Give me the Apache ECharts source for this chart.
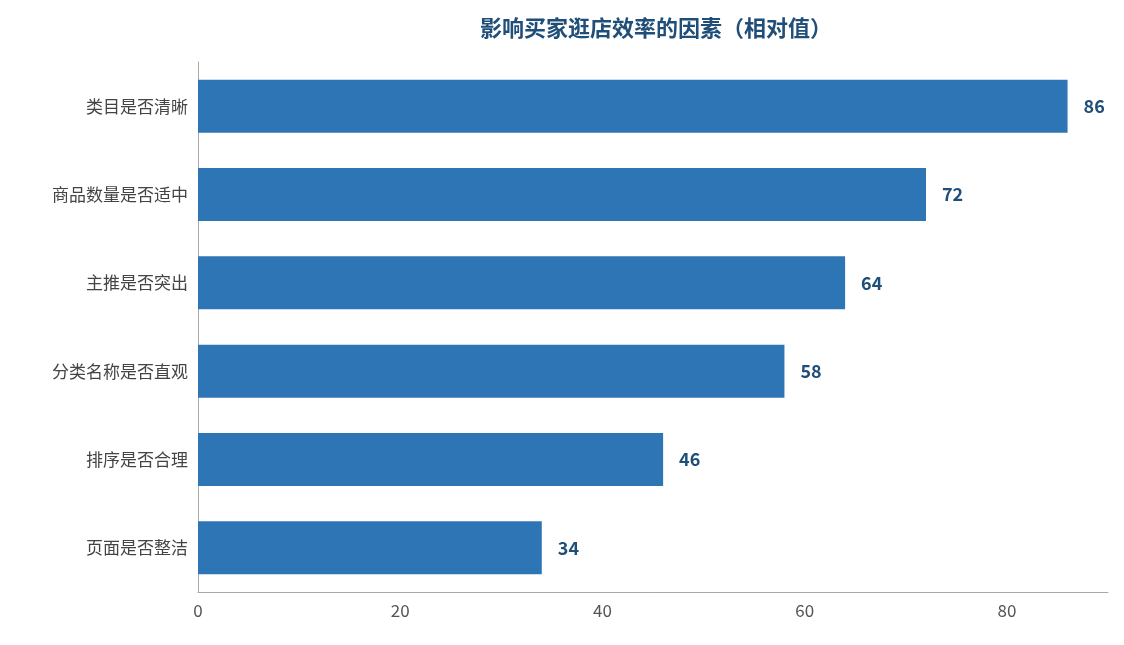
<!DOCTYPE html>
<html><head><meta charset="utf-8">
<script src="https://cdn.jsdelivr.net/npm/echarts@6/dist/echarts.min.js"></script>
<style>html,body{margin:0;padding:0;background:#fff}#c{width:1124px;height:645px}</style>
</head><body><div id="c"></div>
<script>
const categories = ['页面是否整洁','排序是否合理','分类名称是否直观','主推是否突出','商品数量是否适中','类目是否清晰'];
const values = [34,46,58,64,72,86];
const xTicks = [0,20,40,60,80];
const chart = echarts.init(document.getElementById('c'));
const font = '"Noto Sans CJK SC","Noto Sans",sans-serif';
chart.setOption({
  animation:false,
  title:{text:'影响买家逛店效率的因素（相对值）',left:651,top:12,textAlign:'center',
    textStyle:{fontFamily:font,fontSize:22,fontWeight:'bold',color:'#1f4e79'}},
  grid:{left:198,right:16,top:62,bottom:53},
  xAxis:{type:'value',min:0,max:90,interval:20,
    axisLine:{show:true,lineStyle:{color:'#aaa'}},axisTick:{show:false},
    splitLine:{show:false},
    axisLabel:{showMaxLabel:false,fontFamily:font,fontSize:17,color:'#555',margin:10,
      formatter:v=>xTicks.includes(v)?String(v):''}},
  yAxis:{type:'category',data:categories,
    axisLine:{show:true,lineStyle:{color:'#aaa'}},axisTick:{show:false},
    axisLabel:{fontFamily:font,fontSize:17,color:'#444',margin:10}},
  series:[{type:'bar',data:values,barWidth:'60%',itemStyle:{color:'#2e75b6'},
    label:{show:true,position:'right',distance:16,fontFamily:font,fontSize:18,fontWeight:'bold',color:'#1f4e79'}}]
});
</script></body></html>
